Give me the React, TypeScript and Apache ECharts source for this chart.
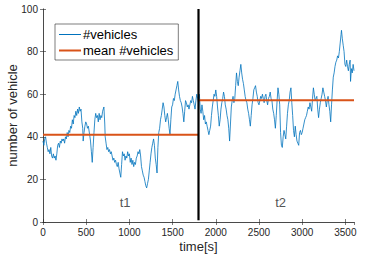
import React, { useEffect, useRef } from "react";
import * as echarts from "echarts";

// [time (s), number of vehicles]
const vehiclesPart1: [number, number][] = [
  [0, 38], [10, 36], [20, 39], [30, 40], [40, 37], [50, 35], [60, 33], [70, 34], [80, 32], [90, 35],
  [100, 31], [110, 30], [120, 32], [130, 30], [140, 31], [150, 29], [160, 32], [170, 36], [180, 37], [190, 35],
  [200, 38], [210, 37], [220, 39], [230, 38], [240, 39], [250, 37], [260, 40], [270, 39], [280, 42], [290, 40],
  [300, 43], [310, 42], [320, 45], [330, 44], [340, 48], [350, 46], [360, 50], [370, 49], [380, 52], [390, 50],
  [400, 53], [410, 51], [420, 54], [430, 52], [440, 53], [450, 47], [460, 44], [465, 38], [475, 42], [485, 45],
  [495, 47], [505, 46], [515, 44], [525, 45], [540, 41], [550, 38], [560, 33], [570, 28], [580, 35], [590, 42],
  [600, 48], [610, 51], [620, 49], [630, 50], [640, 47], [650, 51], [660, 48], [670, 50], [680, 49], [690, 52],
  [705, 54], [715, 46], [720, 40], [730, 37], [740, 34], [750, 35], [760, 33], [770, 34], [780, 32], [790, 33],
  [800, 31], [810, 29], [820, 30], [830, 28], [840, 29], [850, 27], [860, 26], [870, 28], [880, 25], [890, 23],
  [900, 21],
];
const vehiclesPart2: [number, number][] = [
  [910, 27], [920, 33], [930, 31], [940, 32], [950, 29], [960, 31], [970, 30], [980, 33], [990, 31], [1000, 32],
  [1010, 28], [1020, 30], [1030, 27], [1040, 29], [1050, 26], [1060, 28], [1070, 27], [1080, 30], [1090, 31], [1100, 33],
  [1110, 32], [1120, 34], [1130, 31], [1140, 26], [1150, 24], [1160, 22], [1170, 21], [1180, 19], [1190, 17], [1200, 16],
  [1210, 18], [1220, 20], [1230, 24], [1240, 28], [1250, 32], [1260, 35], [1270, 37], [1280, 39], [1290, 36], [1300, 30],
  [1310, 27], [1320, 23], [1330, 35], [1340, 42], [1350, 44], [1360, 48], [1370, 50], [1380, 53], [1390, 56], [1400, 54],
  [1410, 50], [1420, 47], [1430, 49], [1440, 51], [1450, 48], [1460, 44], [1470, 41], [1480, 48], [1490, 54], [1500, 55],
  [1510, 58], [1520, 57], [1530, 60], [1540, 62], [1550, 64], [1560, 66], [1570, 62], [1580, 59], [1590, 57], [1600, 56],
  [1610, 54], [1620, 51], [1630, 47], [1640, 52], [1650, 57], [1660, 56], [1670, 54], [1680, 55], [1690, 53], [1700, 55],
  [1710, 57], [1720, 56], [1730, 59], [1740, 57], [1750, 55], [1760, 53], [1770, 57], [1780, 60], [1790, 58], [1800, 56],
];
const vehiclesPart3: [number, number][] = [
  [1810, 60], [1820, 53], [1830, 51], [1840, 55], [1850, 52], [1860, 48], [1870, 50], [1880, 46], [1890, 47], [1900, 45],
  [1910, 43], [1920, 41], [1930, 43], [1940, 45], [1950, 50], [1960, 54], [1970, 57], [1980, 60], [1990, 59], [2000, 62],
  [2010, 59], [2020, 54], [2030, 50], [2040, 45], [2050, 48], [2060, 53], [2070, 56], [2080, 58], [2090, 61], [2100, 59],
  [2110, 55], [2120, 53], [2130, 50], [2140, 48], [2150, 44], [2160, 38], [2170, 46], [2180, 54], [2190, 57], [2200, 59],
  [2210, 56], [2220, 58], [2230, 64], [2240, 70], [2250, 66], [2260, 64], [2270, 68], [2280, 71], [2290, 74], [2300, 70],
  [2310, 67], [2320, 65], [2330, 62], [2340, 59], [2350, 57], [2360, 56], [2370, 53], [2380, 51], [2390, 48], [2400, 45],
  [2410, 50], [2420, 55], [2430, 58], [2440, 62], [2450, 63], [2460, 64], [2470, 61], [2480, 59], [2490, 56], [2500, 55],
  [2510, 57], [2520, 59], [2530, 58], [2540, 60], [2550, 58], [2560, 56], [2570, 59], [2580, 60], [2590, 57], [2600, 55],
  [2610, 58], [2620, 59], [2630, 61], [2640, 58], [2650, 57], [2660, 53], [2670, 51], [2680, 48], [2690, 44], [2700, 50],
];
const vehiclesPart4: [number, number][] = [
  [2710, 57], [2720, 63], [2730, 60], [2740, 55], [2750, 42], [2760, 36], [2770, 35], [2780, 40], [2790, 43], [2800, 41],
  [2810, 39], [2820, 45], [2830, 51], [2840, 55], [2850, 57], [2860, 61], [2870, 63], [2880, 56], [2890, 50], [2900, 43],
  [2910, 40], [2920, 45], [2930, 41], [2940, 38], [2950, 37], [2960, 36], [2970, 42], [2980, 43], [2990, 41], [3000, 42],
  [3010, 44], [3020, 46], [3030, 48], [3040, 49], [3050, 50], [3060, 52], [3070, 54], [3080, 53], [3090, 56], [3100, 54],
  [3110, 52], [3120, 58], [3130, 63], [3140, 60], [3150, 57], [3160, 58], [3170, 59], [3180, 53], [3190, 49], [3200, 53],
  [3210, 56], [3220, 58], [3230, 60], [3240, 63], [3250, 61], [3260, 59], [3270, 57], [3280, 54], [3290, 57], [3300, 59],
  [3310, 55], [3320, 52], [3330, 47], [3340, 55], [3350, 62], [3360, 68], [3370, 70], [3380, 73], [3390, 75], [3400, 76],
  [3410, 78], [3420, 77], [3430, 80], [3440, 84], [3450, 88], [3455, 90], [3465, 86], [3475, 83], [3485, 80], [3495, 74],
  [3505, 73], [3515, 76], [3525, 73], [3535, 71], [3545, 74], [3555, 76], [3560, 66], [3570, 72], [3580, 70], [3590, 74],
  [3600, 71],
];

const meanT1 = 41;
const meanT2 = 57.2;
const splitTime = 1800;
const xMax = 3600;
const periodLabels = ["t1", "t2"];
const periodLabelPos: [number, number][] = [[950, 9], [2750, 9]];

const AXIS_COLOR = "#262626";
const FONT = "'Liberation Sans', Arial, sans-serif";

export default function App() {
  const ref = useRef<HTMLDivElement>(null);
  useEffect(() => {
    if (!ref.current) return;
    const chart = echarts.init(ref.current, undefined, { renderer: "svg" });
    const vehicles = [...vehiclesPart1, ...vehiclesPart2, ...vehiclesPart3, ...vehiclesPart4];
    const axisCommon = {
      type: "value" as const,
      axisLine: { show: true, lineStyle: { color: AXIS_COLOR, width: 0.6 } },
      axisTick: { show: true, inside: true, length: 3, lineStyle: { color: AXIS_COLOR, width: 0.6 } },
      splitLine: { show: false },
    };
    chart.setOption({
      animation: false,
      backgroundColor: "#ffffff",
      textStyle: { fontFamily: FONT },
      grid: { left: 43, right: 20, top: 9, bottom: 42, containLabel: false, outerBoundsMode: "none" },
      legend: {
        orient: "vertical",
        left: 55,
        top: 24,
        data: [
          { name: "#vehicles", icon: "path://M0,0H22V1H0Z" },
          { name: "mean #vehicles", icon: "path://M0,0H11V1H0Z" },
        ],
        symbolKeepAspect: true,
        backgroundColor: "#ffffff",
        borderColor: AXIS_COLOR,
        borderWidth: 0.6,
        borderRadius: 0,
        padding: [4, 5, 3, 4],
        itemGap: 3,
        itemWidth: 22,
        itemHeight: 14,
        textStyle: { fontSize: 13, color: "#000", fontFamily: FONT, padding: [0, 0, 0, -3] },
      },
      xAxis: [
        {
          ...axisCommon,
          min: 0,
          max: xMax,
          interval: 500,
          name: "time[s]",
          nameLocation: "middle",
          nameGap: 18,
          nameMoveOverlap: false,
          nameTextStyle: { fontSize: 13, color: AXIS_COLOR, fontFamily: FONT },
          axisLabel: {
            fontSize: 10,
            color: AXIS_COLOR,
            margin: 5,
            showMaxLabel: false,
            fontFamily: FONT,
            formatter: (v: number) => String(v),
          },
        },
        {
          ...axisCommon,
          position: "top",
          min: 0,
          max: xMax,
          interval: 500,
          axisLabel: { show: false },
        },
      ],
      yAxis: [
        {
          ...axisCommon,
          min: 0,
          max: 100,
          interval: 20,
          name: "number of vehicle",
          nameLocation: "middle",
          nameGap: 24,
          nameMoveOverlap: false,
          nameTextStyle: { fontSize: 13, color: AXIS_COLOR, fontFamily: FONT },
          axisLabel: { fontSize: 10, color: AXIS_COLOR, margin: 5, fontFamily: FONT, formatter: (v: number) => String(v) },
        },
        {
          ...axisCommon,
          position: "right",
          min: 0,
          max: 100,
          interval: 20,
          axisLabel: { show: false },
        },
      ],
      series: [
        {
          name: "#vehicles",
          type: "line",
          data: vehicles,
          symbol: "none",
          lineStyle: { color: "#0072BD", width: 0.8 },
          itemStyle: { color: "#0072BD" },
          z: 2,
        },
        {
          name: "mean #vehicles",
          type: "line",
          data: [[0, meanT1], [splitTime, meanT1], [splitTime, "-"], [splitTime, meanT2], [xMax, meanT2]],
          symbol: "none",
          connectNulls: false,
          lineStyle: { color: "#D95319", width: 2 },
          itemStyle: { color: "#D95319" },
          z: 3,
        },
        {
          name: "split",
          type: "line",
          data: [[splitTime, 0.8], [splitTime, 100]],
          symbol: "none",
          lineStyle: { color: "#000000", width: 2.2 },
          z: 4,
        },
        {
          name: "periods",
          type: "scatter",
          symbolSize: 0,
          data: periodLabels.map((n, i) => ({ name: n, value: periodLabelPos[i] })),
          label: {
            show: true,
            position: "inside",
            formatter: (p: any) => p.name,
            fontSize: 13,
            color: AXIS_COLOR,
            fontFamily: FONT,
          },
          z: 5,
        },
      ],
    });
    return () => chart.dispose();
  }, []);
  return (
    <div
      ref={ref}
      style={{ position: "fixed", left: 0, top: 0, width: 374, height: 264, background: "#fff" }}
    />
  );
}
